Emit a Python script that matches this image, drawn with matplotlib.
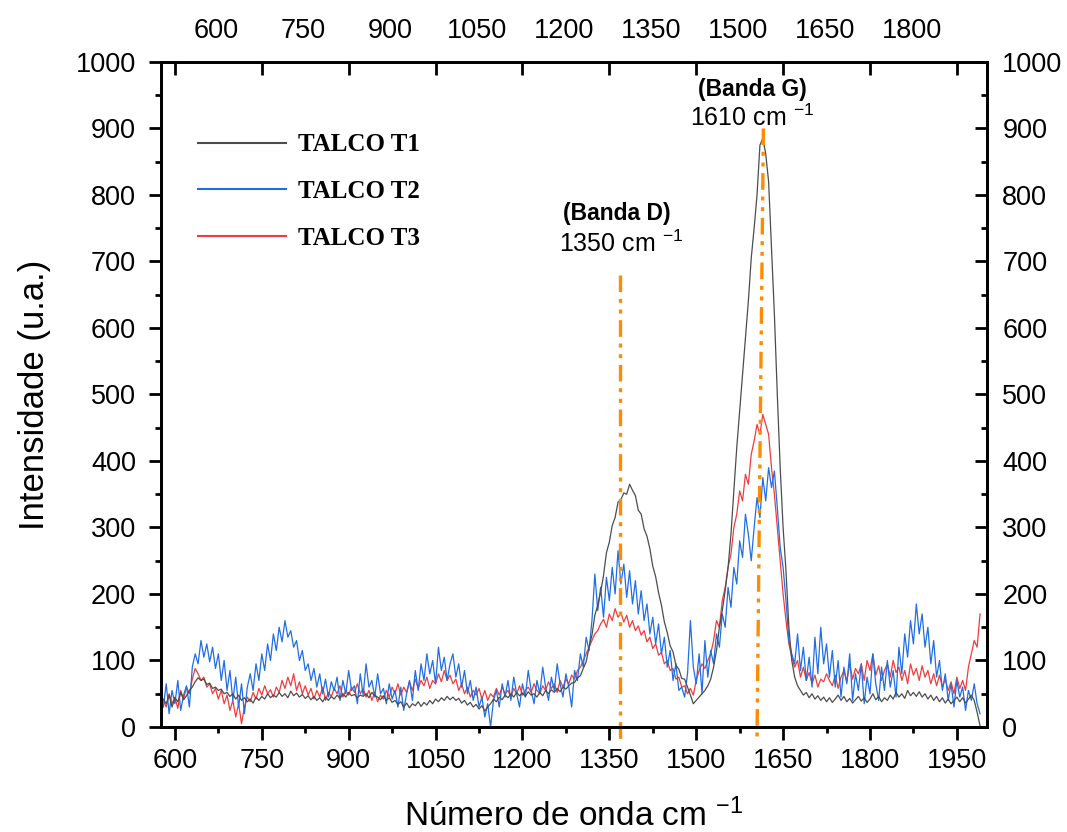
import numpy as np
import matplotlib
matplotlib.use("Agg")
import matplotlib.pyplot as plt
from matplotlib.ticker import MultipleLocator

plt.rcParams["font.family"] = ["Liberation Sans", "DejaVu Sans"]
plt.rcParams["mathtext.fontset"] = "custom"
plt.rcParams["mathtext.rm"] = "Liberation Sans"
plt.rcParams["mathtext.it"] = "Liberation Sans:italic"
plt.rcParams["mathtext.bf"] = "Liberation Sans:bold"

# ---------------------------------------------------------------------
# Data (one value every 5 cm-1 from 580 to 1990)
# ---------------------------------------------------------------------

wavenumber = np.arange(580, 1995, 5)

talco_t1 = [
	42, 35, 48, 30, 44, 38, 52, 41, 47, 55,
	60, 68, 74, 70, 72, 64, 66, 58, 60, 55,
	57, 50, 52, 46, 50, 42, 48, 40, 44, 38,
	42, 36, 45, 40, 46, 42, 50, 44, 48, 45,
	52, 46, 50, 44, 54, 47, 51, 45, 49, 43,
	47, 41, 46, 40, 44, 38, 45, 40, 46, 42,
	48, 43, 50, 45, 52, 47, 49, 44, 48, 46,
	50, 44, 52, 47, 45, 41, 47, 40, 44, 37,
	40, 34, 38, 30, 36, 29, 35, 32, 38, 31,
	37, 33, 40, 35, 42, 38, 44, 40, 46, 41,
	45, 40, 43, 36, 40, 33, 37, 30, 34, 27,
	32, 24, 30, 35, 42, 38, 45, 41, 48, 44,
	50, 45, 52, 47, 51, 46, 53, 48, 50, 45,
	52, 47, 55, 50, 56, 52, 58, 53, 60, 57,
	62, 66, 67, 74, 77, 88, 98, 120, 138, 168,
	183, 203, 228, 262, 278, 303, 315, 338, 342, 352,
	350, 365, 356, 348, 326, 320, 298, 287, 268, 242,
	226, 202, 183, 158, 142, 122, 113, 93, 87, 73,
	72, 60, 48, 35, 40, 45, 50, 55, 62, 72,
	90, 115, 150, 175, 205, 240, 290, 355, 420, 475,
	530, 585, 640, 705, 750, 800, 875, 885, 862, 820,
	720, 620, 500, 390, 300, 235, 150, 100, 75, 62,
	55, 48, 52, 44, 50, 42, 47, 40, 45, 38,
	44, 37, 42, 48, 40, 46, 38, 43, 36, 41,
	46, 39, 44, 37, 42, 50, 41, 46, 38, 44,
	40, 48, 42, 52, 45, 50, 43, 55, 47, 52,
	46, 53, 45, 50, 42, 48, 40, 46, 38, 44,
	36, 42, 35, 40, 45, 38, 44, 36, 42, 48,
	40, 22, 2,
]

talco_t2 = [
	30, 65, 20, 55, 35, 70, 25, 48, 62, 30,
	90, 110, 95, 130, 105, 125, 98, 120, 88, 110,
	70, 100, 55, 85, 40, 75, 30, 65, 20, 60,
	80, 55, 95, 70, 110, 85, 125, 100, 140, 115,
	150, 128, 160, 135, 145, 120, 130, 100, 115, 85,
	95, 70, 88, 60, 80, 50, 72, 45, 68, 55,
	75, 40, 70, 50, 85, 55, 62, 35, 80, 48,
	95, 60, 70, 45, 80, 50, 58, 35, 65, 42,
	55, 30, 60, 25, 50, 70, 40, 85, 55, 95,
	70, 110, 80, 100, 65, 120, 85, 105, 70, 95,
	110, 75, 95, 60, 85, 50, 70, 40, 60, 30,
	45, 15, 35, 0, 40, 55, 30, 65, 45, 70,
	40, 75, 50, 30, 65, 45, 85, 55, 35, 70,
	50, 90, 60, 40, 75, 55, 95, 65, 45, 80,
	60, 30, 85, 70, 110, 90, 135, 115, 160, 230,
	175, 210, 165, 225, 190, 240, 200, 265, 215, 245,
	195, 235, 185, 220, 170, 205, 160, 185, 140, 165,
	125, 155, 110, 135, 90, 115, 70, 95, 55, 60,
	45, 80, 160, 90, 65, 110, 50, 130, 75, 115,
	95, 140, 120, 170, 150, 210, 180, 240, 215, 280,
	255, 320, 290, 250, 300, 345, 315, 375, 340, 390,
	360, 385, 330, 270, 240, 190, 130, 110, 95, 140,
	85, 120, 70, 105, 60, 135, 80, 150, 95, 125,
	75, 115, 60, 100, 45, 90, 65, 110, 40, 80,
	55, 95, 35, 75, 50, 110, 65, 40, 90, 55,
	100, 60, 85, 45, 120, 80, 140, 105, 160, 125,
	185, 140, 170, 120, 150, 95, 130, 75, 100, 55,
	80, 40, 65, 30, 70, 45, 60, 25, 55, 40,
	65, 35, 20,
]

talco_t3 = [
	40, 30, 50, 35, 45, 28, 55, 42, 60, 50,
	72, 88, 80, 70, 75, 60, 65, 50, 58, 42,
	55, 35, 48, 25, 40, 15, 35, 5, 30, 45,
	38, 52, 42, 58, 48, 62, 50, 56, 45, 60,
	52, 70, 58, 75, 62, 80, 55, 68, 50, 62,
	48, 58, 42, 55, 45, 60, 40, 52, 46, 58,
	50, 62, 45, 55, 48, 60, 52, 65, 50, 58,
	45, 55, 40, 52, 38, 48, 42, 55, 45, 60,
	50, 65, 48, 60, 52, 68, 55, 72, 58, 70,
	62, 75, 58, 70, 65, 80, 68, 85, 70, 78,
	65, 72, 55, 65, 50, 60, 45, 55, 48, 58,
	42, 55, 40, 50, 45, 58, 48, 60, 50, 55,
	45, 58, 50, 62, 48, 55, 60, 52, 65, 55,
	50, 62, 55, 68, 58, 65, 52, 70, 60, 72,
	65, 78, 72, 85, 90, 100, 110, 120, 130, 140,
	145, 155, 162, 150, 170, 160, 178, 165, 172, 158,
	168, 150, 160, 145, 152, 138, 145, 128, 135, 118,
	125, 108, 112, 95, 100, 85, 88, 72, 75, 60,
	62, 50, 58, 48, 70, 85, 95, 88, 100, 110,
	130, 160, 150, 190, 210, 240, 260, 300, 320, 355,
	340, 380, 365, 410, 430, 455, 440, 470, 455, 440,
	390, 350, 300, 250, 200, 160, 125, 105, 90, 100,
	75, 90, 70, 82, 65, 78, 60, 72, 68, 80,
	70, 62, 78, 58, 75, 85, 68, 95, 72, 88,
	80, 95, 70, 100, 85, 110, 78, 92, 70, 85,
	95, 75, 100, 82, 90, 70, 85, 65, 95, 78,
	88, 70, 92, 75, 85, 65, 80, 62, 78, 60,
	72, 55, 68, 50, 75, 58, 70, 55, 90, 110,
	130, 120, 170,
]

series_labels = ["TALCO T1", "TALCO T2", "TALCO T3"]
series_colors = ["#4d4d4d", "#1f6fe3", "#f03c3c"]

# marker lines for the two bands (x at top, x at bottom, y top)
band_d_x = [1368, 1368]
band_d_y = [680, -20]
band_g_x = [1616, 1605]
band_g_y = [900, -15]

top_ticks = [600, 750, 900, 1050, 1200, 1350, 1500, 1650, 1800]
top_shift = 72

# ---------------------------------------------------------------------
# Figure
# ---------------------------------------------------------------------

fig = plt.figure(figsize=(10.67, 8.32), dpi=100)
ax = fig.add_axes([0.1509, 0.1262, 0.7741, 0.7993])

ax.plot(wavenumber, talco_t1, color=series_colors[0], lw=0.9, label=series_labels[0], zorder=3)
ax.plot(wavenumber, talco_t2, color=series_colors[1], lw=0.9, label=series_labels[1], zorder=2)
ax.plot(wavenumber, talco_t3, color=series_colors[2], lw=0.9, label=series_labels[2], zorder=1)

dash = (0, (5, 2, 1.2, 2, 1.2, 2))
ax.plot(band_d_x, band_d_y, color="#ff8c00", lw=2.4, ls=dash, clip_on=False, zorder=4)
ax.plot(band_g_x, band_g_y, color="#ff8c00", lw=2.4, ls=dash, clip_on=False, zorder=4)

ax.set_xlim(576, 2002)
ax.set_ylim(0, 1000)

for s in ax.spines.values():
	s.set_linewidth(2.0)

ax.xaxis.set_major_locator(MultipleLocator(150))
ax.xaxis.set_minor_locator(MultipleLocator(75))
ax.yaxis.set_major_locator(MultipleLocator(100))
ax.yaxis.set_minor_locator(MultipleLocator(50))

ax.tick_params(axis="x", which="both", bottom=True, top=True, direction="out",
	labelsize=19.5, pad=6, width=2)
ax.tick_params(axis="x", which="major", length=9)
ax.tick_params(axis="x", which="minor", length=4.5)
ax.tick_params(axis="y", which="both", left=True, right=False, direction="out",
	labelsize=19.5, pad=9, width=2)
ax.tick_params(axis="y", which="major", length=9)
ax.tick_params(axis="y", which="minor", length=4.5)

# top ticks: inward, no labels (labels come from the shifted axis)
axt = ax.twiny()
axt.set_xlim(ax.get_xlim())
axt.xaxis.set_major_locator(MultipleLocator(150))
axt.tick_params(axis="x", which="major", direction="in", length=9, width=2, labeltop=False)
axt.tick_params(axis="x", which="minor", top=False)

sec = ax.secondary_xaxis("top", functions=(lambda v: v - top_shift, lambda v: v + top_shift))
sec.set_xticks(top_ticks)
sec.tick_params(axis="x", length=0, labelsize=19.5, pad=13)
sec.spines["top"].set_visible(False)

# right axis: inward ticks with labels
axr = ax.twinx()
axr.set_ylim(ax.get_ylim())
axr.yaxis.set_major_locator(MultipleLocator(100))
axr.yaxis.set_minor_locator(MultipleLocator(50))
axr.tick_params(axis="y", which="both", direction="in", width=2, labelsize=19.5, pad=11)
axr.tick_params(axis="y", which="major", length=9)
axr.tick_params(axis="y", which="minor", length=4.5)
for s in axr.spines.values():
	s.set_linewidth(2.0)

ax.set_xlabel("Número de onda cm $^{-1}$", fontsize=24, labelpad=18)
ax.set_ylabel("Intensidade (u.a.)", fontsize=25, labelpad=18)

ax.text(1597, 958, "(Banda G)", ha="center", va="center", fontsize=16.5, fontweight="bold")
ax.text(1597, 916, "1610 cm $^{-1}$", ha="center", va="center", fontsize=18)
ax.text(1363, 772, "(Banda D)", ha="center", va="center", fontsize=16.5, fontweight="bold")
ax.text(1370, 727, "1350 cm $^{-1}$", ha="center", va="center", fontsize=18)

leg = ax.legend(loc="upper left", bbox_to_anchor=(0.045, 0.8925), frameon=False,
	borderpad=0, borderaxespad=0, handlelength=3.5, handletextpad=0.5,
	labelspacing=0.95, prop={"family": "Liberation Serif", "weight": "bold", "size": 18})
for h in leg.get_lines():
	h.set_linewidth(1.5)

fig.savefig("out.png", dpi=100)
